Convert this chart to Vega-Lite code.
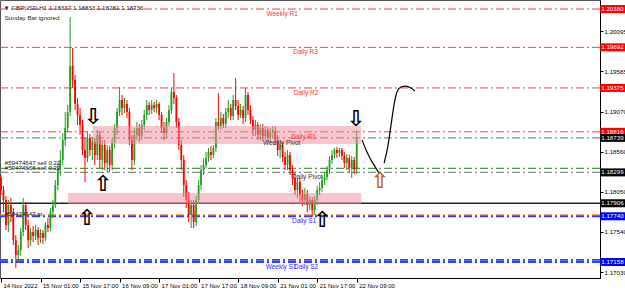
{
"$schema": "https://vega.github.io/schema/vega-lite/v6.json",
"width": 600, "height": 278,
"autosize": {"type": "none"},
"padding": {"left": 0, "top": 0, "right": 25, "bottom": 13},
"background": "white",
"config": {"view": {"stroke": "#555"}, "font": "Liberation Sans", "axis": {"grid": false}},
"resolve": {"scale": {"color": "independent", "strokeDash": "independent", "strokeWidth": "independent"}},
"datasets": {
"candles": [
{"i":0,"o":1.18227,"h":1.18266,"l":1.18011,"c":1.18074},
{"i":1,"o":1.18074,"h":1.18125,"l":1.17794,"c":1.17947},
{"i":2,"o":1.17947,"h":1.17998,"l":1.17565,"c":1.17629},
{"i":3,"o":1.17629,"h":1.17947,"l":1.17539,"c":1.17883},
{"i":4,"o":1.17883,"h":1.17973,"l":1.17667,"c":1.17794},
{"i":5,"o":1.17794,"h":1.17845,"l":1.17374,"c":1.17437},
{"i":6,"o":1.17437,"h":1.17501,"l":1.17081,"c":1.17246},
{"i":7,"o":1.17246,"h":1.17374,"l":1.17157,"c":1.17310},
{"i":8,"o":1.17310,"h":1.17590,"l":1.17234,"c":1.17539},
{"i":9,"o":1.17539,"h":1.17973,"l":1.17488,"c":1.17883},
{"i":10,"o":1.17883,"h":1.17922,"l":1.17565,"c":1.17629},
{"i":11,"o":1.17629,"h":1.17692,"l":1.17336,"c":1.17437},
{"i":12,"o":1.17437,"h":1.17590,"l":1.17361,"c":1.17539},
{"i":13,"o":1.17539,"h":1.17616,"l":1.17412,"c":1.17488},
{"i":14,"o":1.17488,"h":1.17629,"l":1.17437,"c":1.17565},
{"i":15,"o":1.17565,"h":1.17603,"l":1.17374,"c":1.17463},
{"i":16,"o":1.17463,"h":1.17578,"l":1.17399,"c":1.17527},
{"i":17,"o":1.17527,"h":1.17565,"l":1.17386,"c":1.17463},
{"i":18,"o":1.17463,"h":1.17667,"l":1.17425,"c":1.17629},
{"i":19,"o":1.17629,"h":1.17718,"l":1.17539,"c":1.17590},
{"i":20,"o":1.17590,"h":1.17845,"l":1.17552,"c":1.17794},
{"i":21,"o":1.17794,"h":1.17947,"l":1.17718,"c":1.17883},
{"i":22,"o":1.17883,"h":1.18202,"l":1.17845,"c":1.18138},
{"i":23,"o":1.18138,"h":1.18418,"l":1.18074,"c":1.18355},
{"i":24,"o":1.18355,"h":1.18584,"l":1.18253,"c":1.18457},
{"i":25,"o":1.18457,"h":1.18801,"l":1.18393,"c":1.18711},
{"i":26,"o":1.18711,"h":1.19068,"l":1.18635,"c":1.18864},
{"i":27,"o":1.18864,"h":1.19157,"l":1.18813,"c":1.19068},
{"i":28,"o":1.19068,"h":1.20278,"l":1.19017,"c":1.19654},
{"i":29,"o":1.19654,"h":1.19883,"l":1.19374,"c":1.19476},
{"i":30,"o":1.19476,"h":1.19540,"l":1.19094,"c":1.19170},
{"i":31,"o":1.19170,"h":1.19247,"l":1.18903,"c":1.19030},
{"i":32,"o":1.19030,"h":1.19119,"l":1.18775,"c":1.18903},
{"i":33,"o":1.18903,"h":1.18966,"l":1.18520,"c":1.18584},
{"i":34,"o":1.18584,"h":1.18737,"l":1.18176,"c":1.18482},
{"i":35,"o":1.18482,"h":1.18813,"l":1.18431,"c":1.18737},
{"i":36,"o":1.18737,"h":1.18788,"l":1.18508,"c":1.18584},
{"i":37,"o":1.18584,"h":1.18750,"l":1.18457,"c":1.18686},
{"i":38,"o":1.18686,"h":1.18737,"l":1.18393,"c":1.18520},
{"i":39,"o":1.18520,"h":1.18839,"l":1.18457,"c":1.18775},
{"i":40,"o":1.18775,"h":1.18813,"l":1.18355,"c":1.18457},
{"i":41,"o":1.18457,"h":1.18711,"l":1.18329,"c":1.18648},
{"i":42,"o":1.18648,"h":1.18711,"l":1.18329,"c":1.18418},
{"i":43,"o":1.18418,"h":1.18648,"l":1.18304,"c":1.18584},
{"i":44,"o":1.18584,"h":1.18635,"l":1.18304,"c":1.18393},
{"i":45,"o":1.18393,"h":1.18737,"l":1.18329,"c":1.18686},
{"i":46,"o":1.18686,"h":1.18915,"l":1.18610,"c":1.18864},
{"i":47,"o":1.18864,"h":1.19119,"l":1.18775,"c":1.19068},
{"i":48,"o":1.19068,"h":1.19387,"l":1.19017,"c":1.19221},
{"i":49,"o":1.19221,"h":1.19285,"l":1.19030,"c":1.19119},
{"i":50,"o":1.19119,"h":1.19247,"l":1.19055,"c":1.19170},
{"i":51,"o":1.19170,"h":1.19221,"l":1.18992,"c":1.19068},
{"i":52,"o":1.19068,"h":1.19119,"l":1.18648,"c":1.18711},
{"i":53,"o":1.18711,"h":1.18775,"l":1.18329,"c":1.18457},
{"i":54,"o":1.18457,"h":1.18864,"l":1.18393,"c":1.18775},
{"i":55,"o":1.18775,"h":1.18941,"l":1.18711,"c":1.18864},
{"i":56,"o":1.18864,"h":1.18915,"l":1.18686,"c":1.18762},
{"i":57,"o":1.18762,"h":1.18966,"l":1.18711,"c":1.18903},
{"i":58,"o":1.18903,"h":1.19094,"l":1.18839,"c":1.19030},
{"i":59,"o":1.19030,"h":1.19221,"l":1.18966,"c":1.19157},
{"i":60,"o":1.19157,"h":1.19196,"l":1.19030,"c":1.19094},
{"i":61,"o":1.19094,"h":1.19221,"l":1.19043,"c":1.19157},
{"i":62,"o":1.19157,"h":1.19196,"l":1.19068,"c":1.19119},
{"i":63,"o":1.19119,"h":1.19221,"l":1.19055,"c":1.19170},
{"i":64,"o":1.19170,"h":1.19196,"l":1.18966,"c":1.19030},
{"i":65,"o":1.19030,"h":1.19068,"l":1.18801,"c":1.18864},
{"i":66,"o":1.18864,"h":1.18941,"l":1.18711,"c":1.18801},
{"i":67,"o":1.18801,"h":1.18992,"l":1.18737,"c":1.18941},
{"i":68,"o":1.18941,"h":1.19157,"l":1.18890,"c":1.19094},
{"i":69,"o":1.19094,"h":1.19374,"l":1.19043,"c":1.19323},
{"i":70,"o":1.19323,"h":1.19565,"l":1.19170,"c":1.19247},
{"i":71,"o":1.19247,"h":1.19285,"l":1.18864,"c":1.18941},
{"i":72,"o":1.18941,"h":1.18992,"l":1.18584,"c":1.18648},
{"i":73,"o":1.18648,"h":1.18711,"l":1.18329,"c":1.18457},
{"i":74,"o":1.18457,"h":1.18520,"l":1.17985,"c":1.18138},
{"i":75,"o":1.18138,"h":1.18202,"l":1.17845,"c":1.17947},
{"i":76,"o":1.17947,"h":1.18049,"l":1.17667,"c":1.17756},
{"i":77,"o":1.17756,"h":1.17947,"l":1.17590,"c":1.17883},
{"i":78,"o":1.17883,"h":1.17947,"l":1.17590,"c":1.17667},
{"i":79,"o":1.17667,"h":1.17998,"l":1.17616,"c":1.17947},
{"i":80,"o":1.17947,"h":1.18202,"l":1.17896,"c":1.18138},
{"i":81,"o":1.18138,"h":1.18393,"l":1.18074,"c":1.18329},
{"i":82,"o":1.18329,"h":1.18482,"l":1.18266,"c":1.18393},
{"i":83,"o":1.18393,"h":1.18559,"l":1.18355,"c":1.18482},
{"i":84,"o":1.18482,"h":1.18610,"l":1.18431,"c":1.18559},
{"i":85,"o":1.18559,"h":1.18635,"l":1.18457,"c":1.18520},
{"i":86,"o":1.18520,"h":1.18648,"l":1.18482,"c":1.18610},
{"i":87,"o":1.18610,"h":1.18992,"l":1.18559,"c":1.18941},
{"i":88,"o":1.18941,"h":1.19310,"l":1.18839,"c":1.18890},
{"i":89,"o":1.18890,"h":1.19068,"l":1.18839,"c":1.18992},
{"i":90,"o":1.18992,"h":1.19043,"l":1.18864,"c":1.18915},
{"i":91,"o":1.18915,"h":1.19119,"l":1.18864,"c":1.19068},
{"i":92,"o":1.19068,"h":1.19221,"l":1.18992,"c":1.19119},
{"i":93,"o":1.19119,"h":1.19170,"l":1.18966,"c":1.19017},
{"i":94,"o":1.19017,"h":1.19285,"l":1.18966,"c":1.19221},
{"i":95,"o":1.19221,"h":1.19501,"l":1.19094,"c":1.19145},
{"i":96,"o":1.19145,"h":1.19221,"l":1.18966,"c":1.19030},
{"i":97,"o":1.19030,"h":1.19170,"l":1.18992,"c":1.19094},
{"i":98,"o":1.19094,"h":1.19145,"l":1.18915,"c":1.18992},
{"i":99,"o":1.18992,"h":1.19374,"l":1.18941,"c":1.19285},
{"i":100,"o":1.19285,"h":1.19323,"l":1.19030,"c":1.19094},
{"i":101,"o":1.19094,"h":1.19157,"l":1.18915,"c":1.18966},
{"i":102,"o":1.18966,"h":1.19017,"l":1.18762,"c":1.18839},
{"i":103,"o":1.18839,"h":1.18966,"l":1.18762,"c":1.18903},
{"i":104,"o":1.18903,"h":1.18941,"l":1.18711,"c":1.18775},
{"i":105,"o":1.18775,"h":1.18915,"l":1.18711,"c":1.18864},
{"i":106,"o":1.18864,"h":1.18915,"l":1.18699,"c":1.18762},
{"i":107,"o":1.18762,"h":1.18890,"l":1.18711,"c":1.18839},
{"i":108,"o":1.18839,"h":1.18877,"l":1.18686,"c":1.18737},
{"i":109,"o":1.18737,"h":1.18864,"l":1.18686,"c":1.18813},
{"i":110,"o":1.18813,"h":1.18890,"l":1.18737,"c":1.18839},
{"i":111,"o":1.18813,"h":1.18890,"l":1.18648,"c":1.18711},
{"i":112,"o":1.18711,"h":1.18775,"l":1.18508,"c":1.18584},
{"i":113,"o":1.18584,"h":1.18711,"l":1.18482,"c":1.18648},
{"i":114,"o":1.18648,"h":1.18686,"l":1.18431,"c":1.18495},
{"i":115,"o":1.18495,"h":1.18559,"l":1.18329,"c":1.18393},
{"i":116,"o":1.18393,"h":1.18584,"l":1.18329,"c":1.18520},
{"i":117,"o":1.18520,"h":1.18559,"l":1.18266,"c":1.18329},
{"i":118,"o":1.18329,"h":1.18393,"l":1.18138,"c":1.18227},
{"i":119,"o":1.18227,"h":1.18304,"l":1.18011,"c":1.18074},
{"i":120,"o":1.18074,"h":1.18227,"l":1.17973,"c":1.18176},
{"i":121,"o":1.18176,"h":1.18227,"l":1.17922,"c":1.18011},
{"i":122,"o":1.18011,"h":1.18074,"l":1.17871,"c":1.17947},
{"i":123,"o":1.17947,"h":1.18100,"l":1.17883,"c":1.18023},
{"i":124,"o":1.18023,"h":1.18074,"l":1.17794,"c":1.17883},
{"i":125,"o":1.17883,"h":1.17998,"l":1.17820,"c":1.17947},
{"i":126,"o":1.17947,"h":1.17985,"l":1.17730,"c":1.17820},
{"i":127,"o":1.17820,"h":1.17998,"l":1.17756,"c":1.17947},
{"i":128,"o":1.17947,"h":1.18125,"l":1.17883,"c":1.18074},
{"i":129,"o":1.18074,"h":1.18176,"l":1.18011,"c":1.18100},
{"i":130,"o":1.18100,"h":1.18253,"l":1.18049,"c":1.18202},
{"i":131,"o":1.18202,"h":1.18304,"l":1.18138,"c":1.18240},
{"i":132,"o":1.18240,"h":1.18380,"l":1.18202,"c":1.18329},
{"i":133,"o":1.18329,"h":1.18508,"l":1.18278,"c":1.18457},
{"i":134,"o":1.18457,"h":1.18584,"l":1.18406,"c":1.18520},
{"i":135,"o":1.18520,"h":1.18610,"l":1.18482,"c":1.18584},
{"i":136,"o":1.18584,"h":1.18622,"l":1.18482,"c":1.18546},
{"i":137,"o":1.18546,"h":1.18610,"l":1.18495,"c":1.18584},
{"i":138,"o":1.18584,"h":1.18610,"l":1.18457,"c":1.18508},
{"i":139,"o":1.18508,"h":1.18559,"l":1.18355,"c":1.18418},
{"i":140,"o":1.18418,"h":1.18533,"l":1.18329,"c":1.18482},
{"i":141,"o":1.18482,"h":1.18520,"l":1.18291,"c":1.18355},
{"i":142,"o":1.18355,"h":1.18508,"l":1.18227,"c":1.18457},
{"i":143,"o":1.18457,"h":1.18495,"l":1.18278,"c":1.18337},
{"i":144,"o":1.18337,"h":1.18833,"l":1.18281,"c":1.18736}
],
"levels": [
{"p":1.20380,"k":"res"},{"p":1.19892,"k":"res"},{"p":1.19375,"k":"res"},{"p":1.18816,"k":"res"},
{"p":1.18739,"k":"piv"},{"p":1.18299,"k":"piv"},{"p":1.18350,"k":"ord"},
{"p":1.17906,"k":"line"},{"p":1.17755,"k":"tp"},
{"p":1.17740,"k":"sup"},{"p":1.17185,"k":"sup"},{"p":1.17158,"k":"sup"}
],
"zones": [
{"x1":37.2,"x2":145.8,"p1":1.18890,"p2":1.18660},
{"x1":27.1,"x2":145.8,"p1":1.18036,"p2":1.17896}
],
"labels": [
{"t":"Weekly R1","x":113.8,"p":1.20380,"k":"res"},
{"t":"Daily R3","x":123.3,"p":1.19892,"k":"res"},
{"t":"Daily R2","x":123.5,"p":1.19375,"k":"res"},
{"t":"Daily R1","x":122.5,"p":1.18816,"k":"res"},
{"t":"Weekly Pivot","x":113.6,"p":1.18739,"k":"piv"},
{"t":"Daily Pivot","x":124,"p":1.18299,"k":"piv"},
{"t":"Daily S1","x":122.7,"p":1.17740,"k":"sup"},
{"t":"Weekly S1","x":113.4,"p":1.17158,"k":"sup"},
{"t":"Daily S2","x":123.5,"p":1.17158,"k":"sup"}
],
"notes": [
{"t":"▼ GBPUSD,H1  1.18337 1.18833 1.18281 1.18736","x":1,"p":1.20393},
{"t":"Sunday Bar ignored","x":1.5,"p":1.20266},
{"t":"#59474647 sell 0.21","x":1.5,"p":1.18418},
{"t":"#59474666 sell 0.21","x":1.5,"p":1.18355},
{"t":"#59474647 tp","x":1.5,"p":1.17769}
],
"arrows": [
{"g":"⇩","x":37.3,"p":1.19004,"k":"k"},
{"g":"⇧","x":41.3,"p":1.18150,"k":"k"},
{"g":"⇧","x":34.8,"p":1.17717,"k":"k"},
{"g":"⇩","x":143.7,"p":1.18979,"k":"k"},
{"g":"⇧","x":130,"p":1.17692,"k":"k"},
{"g":"⇧","x":153.4,"p":1.18189,"k":"o"}
],
"curve": [
{"s":1,"n":1,"x":146.2,"p":1.18711},{"s":1,"n":2,"x":147.8,"p":1.18584},{"s":1,"n":3,"x":149.8,"p":1.18456},{"s":1,"n":4,"x":151.8,"p":1.18354},{"s":1,"n":5,"x":153.0,"p":1.18291},
{"s":2,"n":1,"x":155.1,"p":1.18418},{"s":2,"n":2,"x":156.7,"p":1.18647},{"s":2,"n":3,"x":157.9,"p":1.18902},{"s":2,"n":4,"x":159.1,"p":1.19157},{"s":2,"n":5,"x":160.3,"p":1.19323},{"s":2,"n":6,"x":161.9,"p":1.19386},{"s":2,"n":7,"x":164.0,"p":1.19399},{"s":2,"n":8,"x":166.0,"p":1.19373},{"s":2,"n":9,"x":167.6,"p":1.19335}
],
"tags": [
{"p":1.20380,"k":"r"},{"p":1.19892,"k":"r"},{"p":1.19375,"k":"r"},{"p":1.18816,"k":"r"},
{"p":1.18739,"k":"b"},{"p":1.18299,"k":"b"},{"p":1.17906,"k":"b"},
{"p":1.17740,"k":"u"},{"p":1.17158,"k":"u"}
]
},
"layer": [
{
"data": {"name": "levels"},
"mark": {"type": "rule"},
"encoding": {
"y": {"field": "p", "type": "quantitative", "scale": {"domain": [1.16954, 1.20495], "nice": false, "zero": false, "padding": 0}, "title": null,
  "axis": {"orient": "right", "values": [1.20095,1.19840,1.19585,1.19330,1.19070,1.18816,1.18560,1.18305,1.18050,1.17795,1.17540,1.17285,1.17030], "format": ".5f", "labelFontSize": 6.2, "labelColor": "#000", "tickSize": 3, "tickColor": "#000", "domainColor": "#000", "labelPadding": 1, "labelOverlap": false, "labelFlush": false, "labelBound": false}},
"color": {"field": "k", "type": "nominal", "legend": null, "scale": {"domain": ["res","piv","ord","line","tp","sup"], "range": ["#ff3b3b","#8a8a8a","#4a9a4a","#222222","#ff7f50","#2f3fff"]}},
"strokeDash": {"field": "k", "type": "nominal", "legend": null, "scale": {"domain": ["res","piv","ord","line","tp","sup"], "range": [[8,3,2,3],[8,3,2,3],[8,3,2,3],[1,0],[8,3,2,3],[8,3,2,3]]}},
"strokeWidth": {"field": "k", "type": "nominal", "legend": null, "scale": {"domain": ["res","piv","ord","line","tp","sup"], "range": [1,1.8,1,1.6,1,1]}}
}
},
{
"data": {"name": "candles"},
"mark": {"type": "rule", "strokeWidth": 1},
"encoding": {
"x": {"field": "i", "type": "quantitative", "scale": {"domain": [-0.4, 242.5], "nice": false, "zero": false, "padding": 0}, "title": null,
  "axis": {"values": [0,16,32,48,64,80,96,112,128,144], "labelExpr": "['14 Nov 2022','15 Nov 01:00','15 Nov 17:00','16 Nov 09:00','17 Nov 01:00','17 Nov 17:00','18 Nov 09:00','21 Nov 01:00','21 Nov 17:00','22 Nov 09:00'][round(datum.value/16)]", "labelAlign": "left", "labelOffset": 2, "labelFontSize": 6, "labelColor": "#000", "tickSize": 4, "tickColor": "#000", "domainColor": "#000", "labelPadding": 0, "labelOverlap": false, "labelFlush": false, "labelBound": false}},
"y": {"field": "l", "type": "quantitative", "title": null},
"y2": {"field": "h"},
"color": {"condition": {"test": "datum.c >= datum.o", "value": "#1f9f1f"}, "value": "#ff0000"}
}
},
{
"data": {"name": "candles"},
"mark": {"type": "bar", "width": 1.8},
"encoding": {
"x": {"field": "i", "type": "quantitative", "title": null},
"y": {"field": "o", "type": "quantitative", "title": null},
"y2": {"field": "c"},
"color": {"condition": {"test": "datum.c >= datum.o", "value": "#1f9f1f"}, "value": "#ff0000"}
}
},
{
"data": {"name": "zones"},
"mark": {"type": "rect", "color": "#f1899d", "opacity": 0.5},
"encoding": {
"x": {"field": "x1", "type": "quantitative", "title": null},
"x2": {"field": "x2"},
"y": {"field": "p1", "type": "quantitative", "title": null},
"y2": {"field": "p2"}
}
},
{
"data": {"name": "labels"},
"mark": {"type": "text", "fontSize": 6.5, "baseline": "middle", "align": "center", "dy": 5},
"encoding": {
"x": {"field": "x", "type": "quantitative", "title": null},
"y": {"field": "p", "type": "quantitative", "title": null},
"text": {"field": "t"},
"color": {"field": "k", "type": "nominal", "legend": null, "scale": {"domain": ["res","piv","sup"], "range": ["#ff3030","#333333","#2a2aff"]}}
}
},
{
"data": {"name": "notes"},
"mark": {"type": "text", "fontSize": 6.2, "baseline": "middle", "align": "left", "color": "#222"},
"encoding": {
"x": {"field": "x", "type": "quantitative", "title": null},
"y": {"field": "p", "type": "quantitative", "title": null},
"text": {"field": "t"}
}
},
{
"data": {"name": "curve"},
"mark": {"type": "line", "color": "#000", "strokeWidth": 1.2, "interpolate": "monotone"},
"encoding": {
"x": {"field": "x", "type": "quantitative", "title": null},
"y": {"field": "p", "type": "quantitative", "title": null},
"detail": {"field": "s"},
"order": {"field": "n"}
}
},
{
"data": {"name": "arrows"},
"mark": {"type": "text", "font": "DejaVu Sans", "fontSize": 22, "fontWeight": "bold", "baseline": "middle", "align": "center"},
"encoding": {
"x": {"field": "x", "type": "quantitative", "title": null},
"y": {"field": "p", "type": "quantitative", "title": null},
"text": {"field": "g"},
"color": {"field": "k", "type": "nominal", "legend": null, "scale": {"domain": ["k","o"], "range": ["#000000","#c8641e"]}}
}
},
{
"data": {"name": "tags"},
"mark": {"type": "bar", "height": 8},
"encoding": {
"x": {"datum": 242.6, "type": "quantitative"},
"x2": {"datum": 252.8},
"y": {"field": "p", "type": "quantitative", "title": null},
"color": {"field": "k", "type": "nominal", "legend": null, "scale": {"domain": ["r","b","u"], "range": ["#ff0000","#000000","#0000ff"]}}
}
},
{
"data": {"name": "tags"},
"mark": {"type": "text", "fontSize": 6.2, "baseline": "middle", "align": "left", "color": "#ffffff"},
"encoding": {
"x": {"datum": 243.0, "type": "quantitative"},
"y": {"field": "p", "type": "quantitative", "title": null},
"text": {"field": "p", "type": "quantitative", "format": ".5f"}
}
}
]
}
